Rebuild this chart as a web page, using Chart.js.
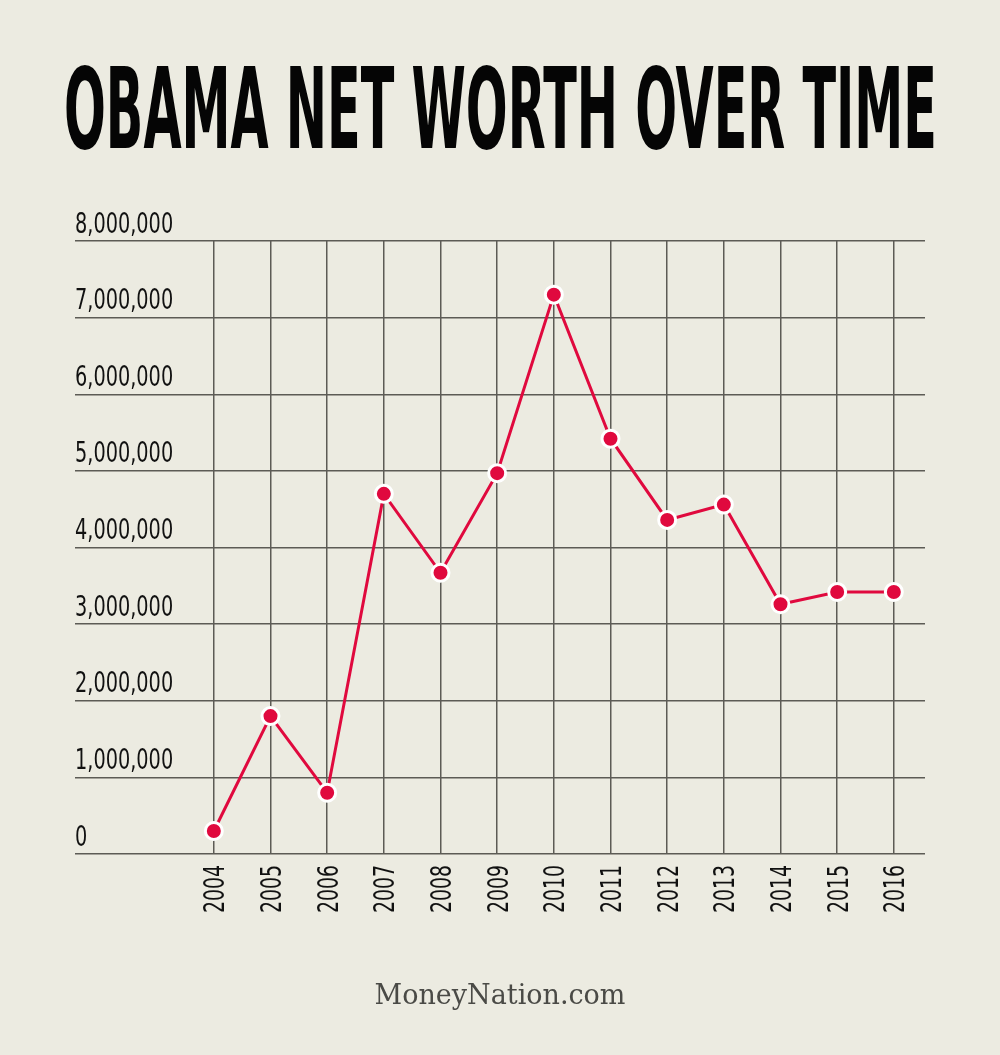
<!DOCTYPE html>
<html>
<head>
<meta charset="utf-8">
<script src="https://cdn.jsdelivr.net/npm/chart.js@4"></script>
<style>
  html, body { margin: 0; padding: 0; background: #ecebe1; }
  #wrap { position: relative; width: 1000px; height: 1055px; }
</style>
</head>
<body>
<div id="wrap"><canvas id="worth-chart" width="1000" height="1055"></canvas></div>
<script>
// chart data
let years = [2004, 2005, 2006, 2007, 2008, 2009, 2010, 2011, 2012, 2013, 2014, 2015, 2016];
let netWorth = [300000, 1800000, 800000, 4700000, 3670000, 4970000, 7300000, 5420000, 4360000, 4560000, 3260000, 3420000, 3420000];
let yTicks = [0, 1000000, 2000000, 3000000, 4000000, 5000000, 6000000, 7000000, 8000000];

let titleText = "OBAMA NET WORTH OVER TIME";
let footerText = "MoneyNation.com";

let narrow = "'Liberation Sans Narrow', 'DejaVu Sans Condensed', 'DejaVu Sans', sans-serif";
let gridColor = "#5c5b55";
let red = "#e0093e";

// tick labels, title and footer drawn on the canvas (squeezed like the original)
const textPlugin = {
    id: "pageText",
    afterDraw(chart) {
        const ctx = chart.ctx;
        const xs = chart.scales.x;
        const ys = chart.scales.y;

        // y labels sit above their grid line
        ctx.save();
        ctx.font = "28px " + narrow;
        ctx.fillStyle = "#111";
        ctx.textAlign = "left";
        ctx.textBaseline = "alphabetic";
        yTicks.forEach((v) => {
            const py = ys.getPixelForValue(v);
            ctx.save();
            ctx.translate(chart.chartArea.left, py - 8.5);
            ctx.scale(0.766, 1);
            ctx.fillText(v.toLocaleString("en-US"), 0, 0);
            ctx.restore();
        });

        // x labels, rotated, reading upward
        ctx.textAlign = "right";
        years.forEach((yr) => {
            const px = xs.getPixelForValue(yr);
            ctx.save();
            ctx.translate(px, chart.chartArea.bottom + 11);
            ctx.rotate(-Math.PI / 2);
            ctx.scale(0.75, 1);
            ctx.fillText(String(yr), 0, 10.4);
            ctx.restore();
        });
        ctx.restore();

        // title
        ctx.save();
        ctx.font = "bold 113px " + narrow;
        ctx.fillStyle = "#050505";
        ctx.textBaseline = "alphabetic";
        ctx.textAlign = "left";
        const w = ctx.measureText(titleText).width;
        ctx.translate(64, 148);
        ctx.scale(873 / w, 1);
        ctx.fillText(titleText, 0, 0);
        ctx.restore();

        // footer
        ctx.save();
        ctx.font = "27px 'DejaVu Serif', serif";
        ctx.fillStyle = "#4a4a46";
        ctx.textAlign = "center";
        ctx.textBaseline = "alphabetic";
        ctx.fillText(footerText, 500, 1004);
        ctx.restore();
    },
};

const ctx = document.getElementById("worth-chart").getContext("2d");
const worthChart = new Chart(ctx, {
    type: "line",
    data: {
        datasets: [
            {
                label: "Net worth",
                data: years.map((y, i) => ({ x: y, y: netWorth[i] })),
                borderColor: red,
                borderWidth: 3,
                pointBackgroundColor: red,
                pointBorderColor: "#ffffff",
                pointBorderWidth: 3,
                pointRadius: 8.5,
                tension: 0,
            },
        ],
    },
    options: {
        responsive: false,
        animation: false,
        layout: {
            padding: { left: 75, right: 75, top: 241, bottom: 121 },
        },
        plugins: {
            legend: { display: false },
            tooltip: { enabled: false },
        },
        scales: {
            x: {
                type: "linear",
                min: 2001.55,
                max: 2016.55,
                afterBuildTicks: (scale) => {
                    scale.ticks = years.map((v) => ({ value: v }));
                },
                afterFit: (scale) => {
                    scale.height = 80;
                },
                border: { display: false },
                grid: {
                    color: gridColor,
                    lineWidth: 1.5,
                    drawTicks: false,
                },
                ticks: { display: false },
            },
            y: {
                min: 0,
                max: 8000000,
                afterBuildTicks: (scale) => {
                    scale.ticks = yTicks.map((v) => ({ value: v }));
                },
                afterFit: (scale) => {
                    scale.width = 0;
                },
                border: { display: false },
                grid: {
                    color: gridColor,
                    lineWidth: 1.5,
                    drawTicks: false,
                },
                ticks: { display: false },
            },
        },
    },
    plugins: [textPlugin],
});
</script>
</body>
</html>
